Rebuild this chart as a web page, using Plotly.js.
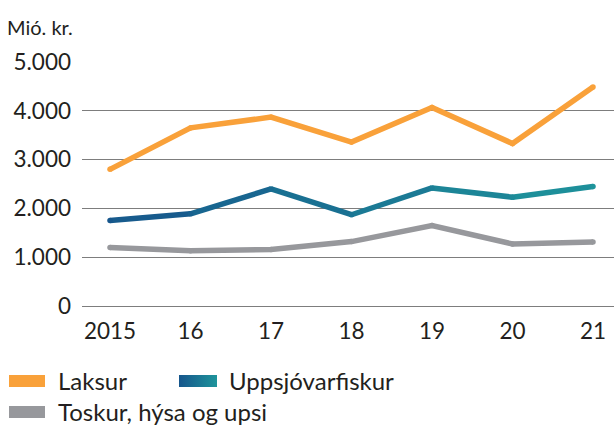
<!DOCTYPE html>
<html>
<head>
<meta charset="utf-8">
<script src="https://cdn.plot.ly/plotly-3.0.1.min.js"></script>
<style>html,body{margin:0;padding:0;background:#fff;}#chart{width:614px;height:425px;}</style>
</head>
<body>
<div id="chart"></div>
<script>
// ---- data ----
const years = [2015, 2016, 2017, 2018, 2019, 2020, 2021];
const yearLabels = ['2015', '16', '17', '18', '19', '20', '21'];
const laksur = [2800, 3650, 3870, 3360, 4070, 3330, 4490];
const uppsjo = [1750, 1890, 2400, 1870, 2420, 2230, 2450];
const toskur = [1200, 1130, 1160, 1320, 1650, 1270, 1310];
const yTicks = [0, 1000, 2000, 3000, 4000, 5000];
const yTickLabels = ['0', '1.000', '2.000', '3.000', '4.000', '5.000'];
const seriesNames = ['Laksur', 'Uppsjóvarfiskur', 'Toskur, hýsa og upsi'];
const unitLabel = 'Mió. kr.';

// ---- styles ----
const FONT = 'Lato, "Noto Sans", sans-serif';
const TXT = '#231f20';
const ORANGE = '#f9a13a';
const GRAY = '#97989c';
const BLUE_START = [22, 86, 140];
const BLUE_END = [30, 148, 155];
const LW = 5.5;
const W = 614, H = 425, ML = 82, MR = 0, MT = 62, MB = 119;

function mix(t) {
  const c = BLUE_START.map((v, i) => Math.round(v + (BLUE_END[i] - v) * t));
  return 'rgb(' + c.join(',') + ')';
}
function px2paperX(px) { return (px - ML) / (W - ML - MR); }
function px2paperY(py) { return (H - MB - py) / (H - MT - MB); }

const traces = [];
traces.push({
  x: years, y: laksur, type: 'scatter', mode: 'lines+markers', name: seriesNames[0],
  line: {color: ORANGE, width: LW}, marker: {color: ORANGE, size: LW}, cliponaxis: false,
  showlegend: false
});
traces.push({
  x: years, y: toskur, type: 'scatter', mode: 'lines+markers', name: seriesNames[2],
  line: {color: GRAY, width: LW}, marker: {color: GRAY, size: LW}, cliponaxis: false,
  showlegend: false
});
// gradient line drawn as consecutive segments
const n = years.length;
for (let i = 0; i < n - 1; i++) {
  const t = (i + 0.5) / (n - 1);
  traces.push({
    x: years.slice(i, i + 2), y: uppsjo.slice(i, i + 2), type: 'scatter', mode: 'lines',
    name: seriesNames[1], line: {color: mix(t), width: LW}, cliponaxis: false, showlegend: false
  });
}
traces.push({
  x: years, y: uppsjo, type: 'scatter', mode: 'markers', name: seriesNames[1],
  marker: {color: years.map((_, i) => mix(i / (n - 1))), size: LW}, cliponaxis: false, showlegend: false
});

const pxPerYear = 80.5;
const x0 = years[0] - (110 - ML) / pxPerYear;
const x1 = years[n - 1] + (W - MR - 593) / pxPerYear;

const gradSvg = '<svg xmlns="http://www.w3.org/2000/svg" width="100" height="10" preserveAspectRatio="none">' +
  '<defs><linearGradient id="g" x1="0" x2="1" y1="0" y2="0">' +
  '<stop offset="0" stop-color="' + mix(0) + '"/><stop offset="1" stop-color="' + mix(1) + '"/>' +
  '</linearGradient></defs><rect width="100" height="10" fill="url(#g)"/></svg>';
const gradUri = 'data:image/svg+xml;base64,' + btoa(gradSvg);

const legendFont = {family: FONT, size: 24, color: TXT};
const tickFont = {family: FONT, size: 22.5, color: TXT};

const layout = {
  width: W, height: H,
  margin: {l: ML, r: MR, t: MT, b: MB, pad: 0},
  paper_bgcolor: '#fff', plot_bgcolor: '#fff',
  showlegend: false,
  font: {family: FONT, color: TXT},
  xaxis: {
    range: [x0, x1], tickmode: 'array', tickvals: years, ticktext: yearLabels,
    showgrid: false, zeroline: false, showline: false,
    ticks: 'outside', ticklen: 5, tickcolor: 'rgba(0,0,0,0)',
    tickfont: tickFont, fixedrange: true
  },
  yaxis: {
    range: [0, 5000], tickmode: 'array', tickvals: yTicks, ticktext: yTickLabels,
    showgrid: true, gridcolor: '#7d7d7d', gridwidth: 1,
    zeroline: true, zerolinecolor: '#7d7d7d', zerolinewidth: 1, showline: false,
    ticks: '', ticklabelstandoff: 10,
    tickfont: tickFont, fixedrange: true
  },
  annotations: [
    {text: unitLabel, xref: 'paper', yref: 'paper', x: px2paperX(5), y: px2paperY(27),
     xanchor: 'left', yanchor: 'middle', showarrow: false,
     font: {family: FONT, size: 20, color: TXT}},
    {text: seriesNames[0], xref: 'paper', yref: 'paper', x: px2paperX(56), y: px2paperY(380),
     xanchor: 'left', yanchor: 'middle', showarrow: false, font: legendFont},
    {text: seriesNames[1], xref: 'paper', yref: 'paper', x: px2paperX(227), y: px2paperY(380),
     xanchor: 'left', yanchor: 'middle', showarrow: false, font: legendFont},
    {text: seriesNames[2], xref: 'paper', yref: 'paper', x: px2paperX(56), y: px2paperY(411),
     xanchor: 'left', yanchor: 'middle', showarrow: false, font: legendFont}
  ],
  shapes: [
    {type: 'rect', xref: 'paper', yref: 'paper', x0: px2paperX(9), x1: px2paperX(45),
     y0: px2paperY(387), y1: px2paperY(375), fillcolor: ORANGE, line: {width: 0}},
    {type: 'rect', xref: 'paper', yref: 'paper', x0: px2paperX(9), x1: px2paperX(45),
     y0: px2paperY(418), y1: px2paperY(406), fillcolor: GRAY, line: {width: 0}}
  ],
  images: [
    {source: gradUri, xref: 'paper', yref: 'paper', x: px2paperX(179), y: px2paperY(375),
     sizex: px2paperX(217) - px2paperX(179), sizey: px2paperY(375) - px2paperY(387),
     xanchor: 'left', yanchor: 'top', sizing: 'stretch', layer: 'above'}
  ]
};

Plotly.newPlot('chart', traces, layout, {displayModeBar: false, staticPlot: true});
</script>
</body>
</html>
